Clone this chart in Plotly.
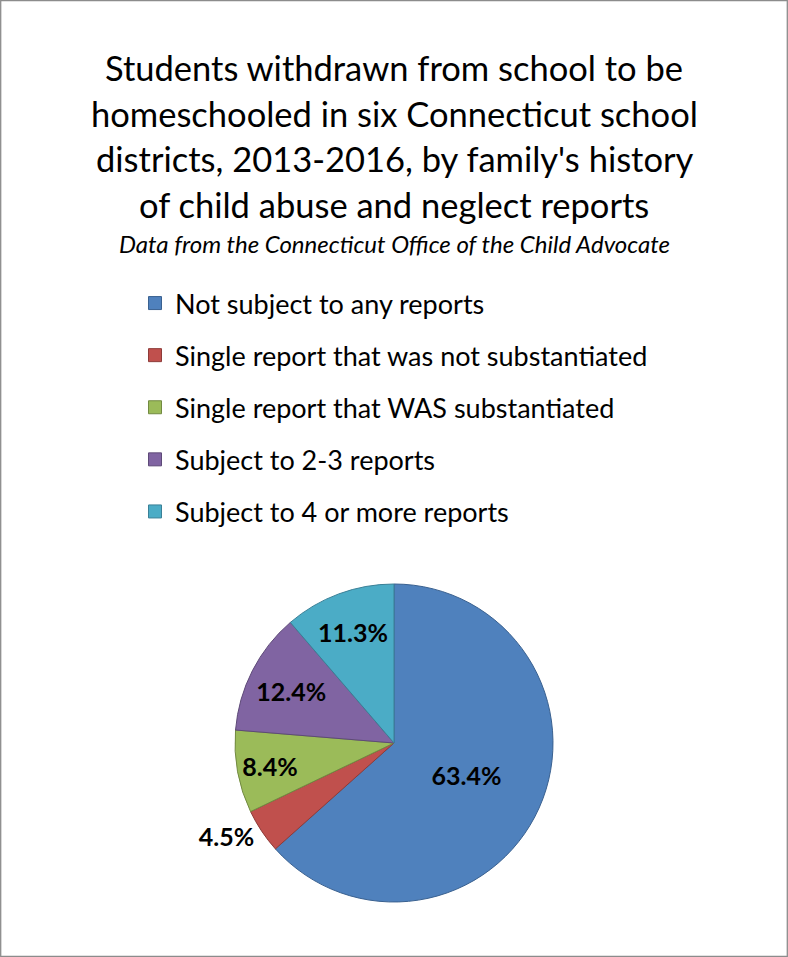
import plotly.graph_objects as go

categories = [
    "Not subject to any reports",
    "Single report that was not substantiated",
    "Single report that WAS substantiated",
    "Subject to 2-3 reports",
    "Subject to 4 or more reports",
]
values = [63.4, 4.5, 8.4, 12.4, 11.3]
colors = ["#4F81BD", "#C0504D", "#9BBB59", "#8064A2", "#4BACC6"]
edge_colors = ["#3A6190", "#8E3B39", "#728A41", "#5E4A78", "#3A8097"]
title_lines = [
    "Students withdrawn from school to be",
    "homeschooled in six Connecticut school",
    "districts, 2013-2016, by family's history",
    "of child abuse and neglect reports",
]
subtitle = "Data from the Connecticut Office of the Child Advocate"

W, H = 788, 957
FONT = "Lato"

fig = go.Figure()

fig.add_trace(go.Pie(
    labels=categories,
    values=values,
    sort=False,
    direction="clockwise",
    rotation=0,
    marker=dict(colors=colors, line=dict(color=edge_colors, width=1)),
    texttemplate="%{value:.1f}%",
    textposition=["inside", "outside", "inside", "inside", "inside"],
    insidetextorientation="horizontal",
    textfont=dict(family=FONT, size=25, color="black", weight="bold"),
    showlegend=False,
    hoverinfo="label+percent",
    domain=dict(x=[235 / W, 553 / W], y=[1 - 902 / H, 1 - 584 / H]),
))

for cat, col, ec in zip(categories, colors, edge_colors):
    fig.add_trace(go.Scatter(
        x=[None], y=[None], mode="markers", name=cat,
        marker=dict(symbol="square", size=13, color=col, line=dict(color=ec, width=1)),
        legendgroup=cat, showlegend=True,
    ))

annotations = []
for i, line in enumerate(title_lines):
    annotations.append(dict(
        text=line, x=0.5, y=1 - (68 + i * 45.5) / H, xref="paper", yref="paper",
        xanchor="center", yanchor="middle", showarrow=False,
        font=dict(family=FONT, size=34.5, color="black"),
    ))
annotations.append(dict(
    text="<i>" + subtitle + "</i>", x=0.5, y=1 - 243 / H, xref="paper", yref="paper",
    xanchor="center", yanchor="middle", showarrow=False,
    font=dict(family=FONT, size=24, color="black"),
))

fig.update_layout(
    width=W, height=H,
    margin=dict(l=0, r=0, t=0, b=0),
    paper_bgcolor="white", plot_bgcolor="white",
    xaxis=dict(visible=False), yaxis=dict(visible=False),
    annotations=annotations,
    uniformtext=dict(minsize=25, mode="show"),
    legend=dict(
        x=135 / W, y=1 - 279 / H, xanchor="left", yanchor="top",
        font=dict(family=FONT, size=27, color="black"),
        tracegroupgap=14, bgcolor="rgba(0,0,0,0)",
    ),
    shapes=[dict(type="rect", xref="paper", yref="paper",
                 x0=0.7 / W, y0=0.7 / H, x1=1 - 0.7 / W, y1=1 - 0.7 / H,
                 line=dict(color="#8C8C8C", width=1.3))],
)

fig.write_html(
    "out.html",
    config={"displayModeBar": False},
    post_script="document.body.style.margin='0px';document.body.style.overflow='hidden';",
)
